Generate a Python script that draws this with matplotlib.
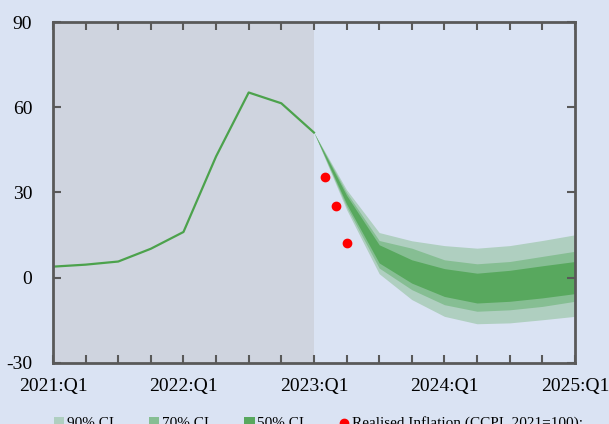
import matplotlib.pyplot as plt
import numpy as np

# quarters indexed from 2021:Q1 = 0
hist_q = [0, 1, 2, 3, 4, 5, 6, 7, 8]
hist_val = [3.9, 4.6, 5.7, 10.2, 16.1, 42.7, 65.2, 61.4, 51.1]

fan_q = [8, 9, 10, 11, 12, 13, 14, 15, 16]
ci90_lo = [51.1, 24.0, 1.4, -7.7, -13.6, -16.2, -15.9, -14.8, -13.6]
ci90_hi = [51.1, 31.0, 15.9, 13.0, 11.3, 10.4, 11.3, 13.1, 15.1]
ci70_lo = [51.1, 25.0, 3.4, -4.2, -9.5, -11.8, -11.3, -10.1, -8.3]
ci70_hi = [51.1, 30.0, 13.1, 10.4, 6.3, 4.9, 5.7, 7.5, 9.3]
ci50_lo = [51.1, 26.0, 5.2, -1.9, -6.6, -8.9, -8.3, -7.1, -5.6]
ci50_hi = [51.1, 29.0, 11.6, 6.3, 3.2, 1.6, 2.6, 4.2, 5.7]

real_q = [8 + 1 / 3, 8 + 2 / 3, 9]
real_val = [35.6, 25.3, 12.1]

year_labels = ["2021:Q1", "2022:Q1", "2023:Q1", "2024:Q1", "2025:Q1"]

bg = "#DAE3F3"
plt.rcParams["font.family"] = ["Liberation Serif", "DejaVu Serif"]
plt.rcParams["axes.unicode_minus"] = False

fig = plt.figure(figsize=(6.09, 4.24), dpi=100, facecolor=bg)
ax = fig.add_axes([0.087, 0.144, 0.857, 0.804])
ax.set_facecolor(bg)

ax.axvspan(0, 8, color="#CFD4DF", lw=0, zorder=0)

ax.fill_between(fan_q, ci90_lo, ci90_hi, color="#AFCFC0", lw=0, label="90% CI")
ax.fill_between(fan_q, ci70_lo, ci70_hi, color="#86BE93", lw=0, label="70% CI")
ax.fill_between(fan_q, ci50_lo, ci50_hi, color="#58A85E", lw=0, label="50% CI")

ax.plot(hist_q, hist_val, color="#4CA24C", lw=1.6)
ax.scatter(real_q, real_val, s=36, color="#FF0000", zorder=5,
           label="Realised Inflation (CCPI, 2021=100):")

ax.set_xlim(0, 16)
ax.set_ylim(-30, 90)
ax.set_xticks(np.arange(0, 17))
ax.set_xticklabels([year_labels[i // 4] if i % 4 == 0 else "" for i in range(17)])
ax.set_yticks([-30, 0, 30, 60, 90])

ax.tick_params(axis="both", direction="in", length=6, width=1.5, color="#595959",
               top=True, right=True, labelsize=14, labelcolor="#000000")
ax.tick_params(axis="x", pad=11)
ax.tick_params(axis="y", pad=15)
for s in ax.spines.values():
    s.set_color("#595959")
    s.set_linewidth(2)

# legend sits at the bottom edge, partly cut off as in the original
fig.legend(loc="upper left", bbox_to_anchor=(0.078, 0.032), ncol=4, frameon=False,
           fontsize=11, handlelength=0.7, handleheight=0.7, handletextpad=0.15,
           columnspacing=2.3, borderaxespad=0)

fig.savefig("out.png", dpi=100, facecolor=bg)
